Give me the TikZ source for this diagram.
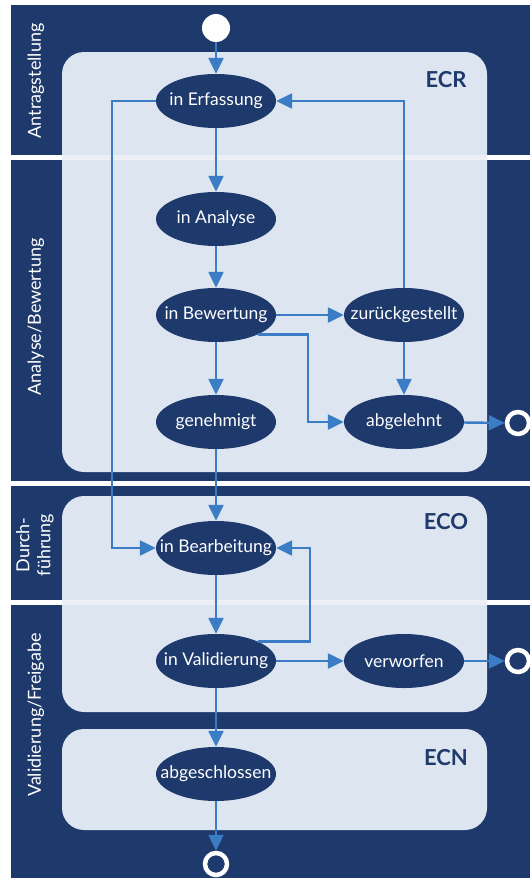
\documentclass[tikz,border=0pt]{standalone}
\usepackage{fontspec}
\setmainfont{Lato}
\usetikzlibrary{arrows.meta,shapes.geometric}
\definecolor{navy}{RGB}{30,57,107}
\definecolor{lanefill}{RGB}{221,229,240}
\definecolor{flowblue}{RGB}{58,125,196}

\begin{document}
\begin{tikzpicture}
[
 x=1pt, y=-1pt,
  >={Triangle[length=16pt,width=15pt]},
  state/.style = {ellipse, fill = navy, text = white, minimum width = 120pt, minimum height = 54pt, inner xsep = -14pt, inner ysep = 0pt, font = \fontsize{17.5}{20}\selectfont},
  flowline/.style = {->, draw = flowblue, line width = 2.4pt},
  lanebox/.style = {fill = lanefill, rounded corners = 22pt},
  lanetext/.style = {rotate = 90, text = white, align = center, font = \fontsize{18}{21}\selectfont},
  boxtitle/.style = {text = navy, font = \fontsize{22}{24}\selectfont\bfseries},
  endring/.style = {circle, draw = white, line width = 4.5pt, fill = navy, minimum size = 22pt, inner sep = 0pt},
]

\useasboundingbox (0,0) rectangle (530,878);
\fill[navy] (11,5) rectangle (530,878);
\foreach \y in {157,483,602} \draw[white, line width = 5pt] (11,\y) -- (530,\y);

\fill[lanebox] (62,52) rectangle (487,472);
\fill[lanebox] (62,496) rectangle (487,712);
\fill[lanebox] (62,729) rectangle (487,830);
\foreach \y in {157,602} \draw[white, opacity = 0.45, line width = 5pt] (62,\y) -- (487,\y);

\node (laneA) at (36,81) [lanetext] {Antragstellung};
\node (laneB) at (36,317) [lanetext] {Analyse/Bewertung};
\node (laneC) at (35,545) [lanetext] {Durch-\\führung};
\node (laneD) at (36,715) [lanetext] {Validierung/Freigabe};

\node (ecr) at (446,80) [boxtitle] {ECR};
\node (eco) at (446,522) [boxtitle] {ECO};
\node (ecn) at (446,758) [boxtitle] {ECN};

\node (start) at (216,28) [circle, fill = white, minimum size = 28pt, inner sep = 0pt] {};
\node (erf) at (216,101) [state] {in Erfassung};
\node (ana) at (216,219) [state] {in Analyse};
\node (bew) at (216,315) [state] {in Bewertung};
\node (gen) at (216,422) [state] {genehmigt};
\node (zur) at (404,315) [state] {zurückgestellt};
\node (abg) at (404,422) [state] {abgelehnt};
\node (bea) at (216,548) [state] {in Bearbeitung};
\node (val) at (216,661) [state] {in Validierung};
\node (ver) at (404,661) [state] {verworfen};
\node (absc) at (216,774) [state] {abgeschlossen};
\node (endA) at (518,423) [endring] {};
\node (endB) at (518,661) [endring] {};
\node (endC) at (216,864) [endring] {};

\draw[flowline] (start) -- (erf);
\draw[flowline] (erf) -- (ana);
\draw[flowline] (ana) -- (bew);
\draw[flowline] (bew) -- (gen);
\draw[flowline] (bew) -- (zur);
\draw[flowline] (bew.-25) -| ([xshift=-36pt]abg.west) -- (abg.west);
\draw[flowline] (zur) -- (abg);
\draw[flowline] (zur.north) |- (erf.east);
\draw[flowline] (abg) -- (endA);
\draw[flowline] (gen) -- (bea);
\draw[flowline] (erf.west) -- ++(-44,0) |- (bea.west);
\draw[flowline] (bea) -- (val);
\draw[flowline] (val.25) -| ([xshift=34pt]bea.east) -- (bea.east);
\draw[flowline] (val) -- (ver);
\draw[flowline] (ver) -- (endB);
\draw[flowline] (val) -- (absc);
\draw[flowline] (absc) -- (endC);

\end{tikzpicture}
\end{document}
